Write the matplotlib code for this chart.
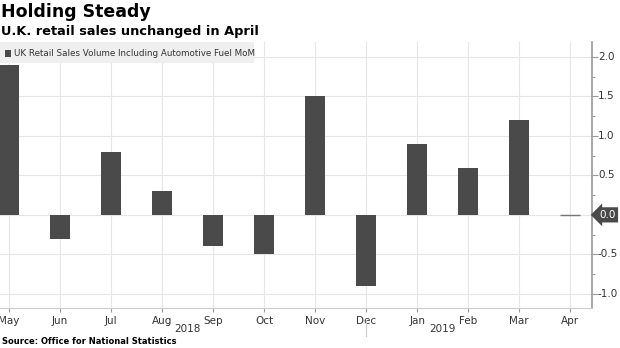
import matplotlib
matplotlib.use("Agg")
import matplotlib.pyplot as plt
from matplotlib.ticker import MultipleLocator
from matplotlib.patches import Rectangle

months = ["May", "Jun", "Jul", "Aug", "Sep", "Oct", "Nov", "Dec", "Jan", "Feb", "Mar", "Apr"]
values = [1.9, -0.3, 0.8, 0.3, -0.4, -0.5, 1.5, -0.9, 0.9, 0.6, 1.2, 0.0]
years = ["2018", "2019"]
series_name = "UK Retail Sales Volume Including Automotive Fuel MoM"
title = "Holding Steady"
subtitle = "U.K. retail sales unchanged in April"
source = "Source: Office for National Statistics"
last_label = "0.0"

plt.rcParams['font.family'] = ['DejaVu Sans']
fig = plt.figure(figsize=(6.2, 3.48), dpi=100)
W, H = 620, 348
ax = fig.add_axes([0 / W, 1 - 308 / H, 592 / W, (308 - 42) / H])

x = list(range(len(months)))
bar_color = "#4a4a4a"
ax.bar(x, values, width=0.39, color=bar_color, zorder=3)
# zero-value bar marker
ax.hlines(values[-1], x[-1] - 0.2, x[-1] + 0.2, color="#777777", lw=1.0, zorder=3)

ax.set_xlim(-0.18, 11.43)
ax.set_ylim(-1.18, 2.19)

ax.yaxis.tick_right()
ax.yaxis.set_major_locator(MultipleLocator(0.5))
ax.yaxis.set_minor_locator(MultipleLocator(0.25))
ax.set_yticklabels([])
ax.tick_params(axis='y', which='major', length=4, color="#999999", width=0.8, pad=2)
ax.tick_params(axis='y', which='minor', length=2, color="#999999", width=0.8)
for v in [-1.0, -0.5, 0.5, 1.0, 1.5, 2.0]:
    ax.text(1.01, (v + 1.18) / (2.19 + 1.18), f"{v:.1f}", transform=ax.transAxes,
            fontsize=7.5, color="#333333", va="center", ha="left")

ax.set_xticks(x)
ax.set_xticklabels(months)
ax.tick_params(axis='x', length=3, color="#999999", labelsize=7.5, labelcolor="#333333", pad=3)

ax.grid(True, axis='both', color="#e6e6e6", lw=0.8, zorder=0)
ax.set_axisbelow(True)
for s in ["top", "left"]:
    ax.spines[s].set_visible(False)
ax.spines["right"].set_color("#999999")
ax.spines["right"].set_linewidth(1.2)
ax.spines["bottom"].set_color("#cccccc")
ax.spines["bottom"].set_linewidth(0.8)

# year labels
xt = ax.get_xaxis_transform()
ax.text(3.5, -0.079, years[0], transform=xt, ha="center", va="center", fontsize=7.5, color="#333333")
ax.text(8.5, -0.079, years[1], transform=xt, ha="center", va="center", fontsize=7.5, color="#333333")
ax.plot([7.0, 7.0], [-0.045, -0.105], transform=xt, color="#cccccc", lw=0.8, clip_on=False)

# last value label tag
yfrac = (values[-1] + 1.18) / (2.19 + 1.18)
ax.annotate(last_label, xy=(1.0, yfrac), xycoords="axes fraction", xytext=(1.012, yfrac),
            textcoords="axes fraction", fontsize=7.5, color="white", va="center", ha="left",
            bbox=dict(boxstyle="larrow,pad=0.25", fc="#4a4a4a", ec="none"))

# legend box
fig.patches.append(Rectangle((0, 1 - 63 / H), 254 / W, 21 / H, transform=fig.transFigure,
                             facecolor="#efefef", edgecolor="none", zorder=5))
fig.patches.append(Rectangle((5 / W, 1 - 56.5 / H), 6 / W, 7 / H, transform=fig.transFigure,
                             facecolor="#4a4a4a", edgecolor="none", zorder=6))
fig.text(14 / W, 1 - 53 / H, series_name, fontsize=6.3, color="#333333", va="center", ha="left", zorder=7)

fig.text(1 / W, 1 - 12 / H, title, fontsize=12.5, fontweight="bold", color="black", va="center", ha="left")
fig.text(1 / W, 1 - 31 / H, subtitle, fontsize=9.3, fontweight="bold", color="black", va="center", ha="left")
fig.text(2 / W, 1 - 341 / H, source, fontsize=6.0, fontweight="bold", color="black", va="center", ha="left")

fig.savefig("out.png", dpi=100)
